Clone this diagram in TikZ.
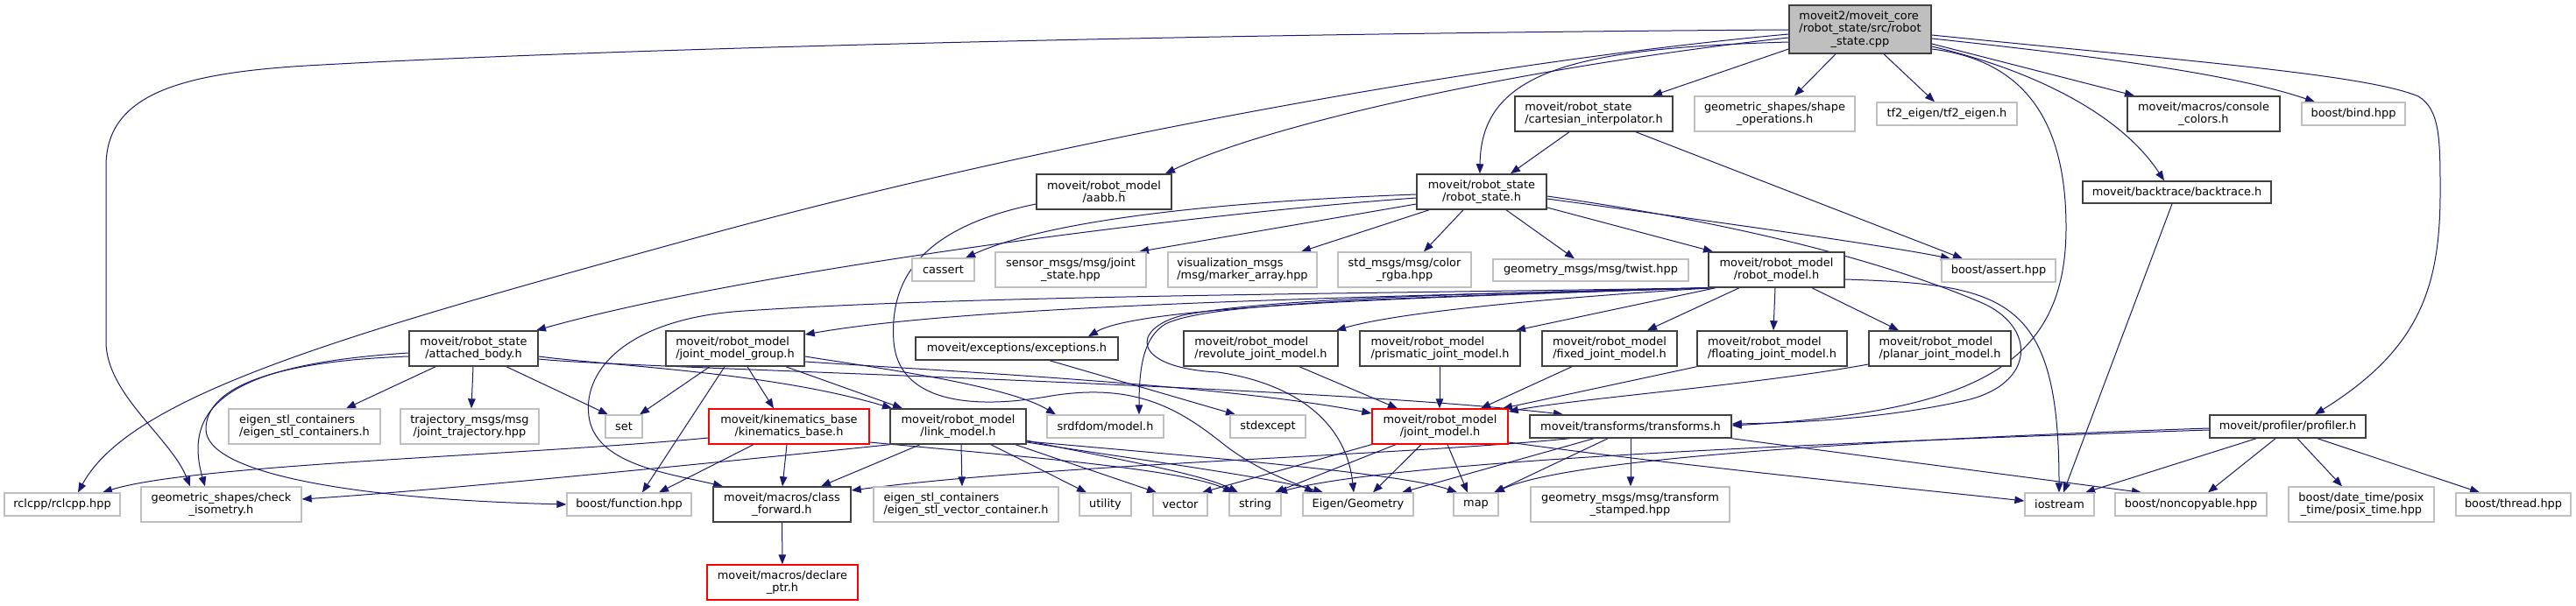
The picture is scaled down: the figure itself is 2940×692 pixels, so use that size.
\documentclass[tikz,border=0pt]{standalone}
\usepackage{fontspec}
\setmainfont{DejaVu Sans}
\usetikzlibrary{arrows.meta}
\definecolor{edgeblue}{HTML}{191970}
\definecolor{docborder}{HTML}{404040}
\definecolor{undborder}{HTML}{BFBFBF}
\definecolor{mainfill}{HTML}{BFBFBF}
\definecolor{truncred}{HTML}{FF0000}
\pgfdeclarelayer{bg}
\pgfsetlayers{bg,main}
\newbox\ljboxa \newbox\ljboxb \newdimen\ljw
\newcommand\lblB[2]{\global\setbox\ljboxa\hbox{#1}\global\setbox\ljboxb\hbox{#2}\global\ljw=\wd\ljboxa\ifdim\wd\ljboxb>\ljw \global\ljw=\wd\ljboxb\fi\hbox to\ljw{#1\hfil}\\#2}
\newcommand\lblC[3]{\global\setbox\ljboxa\hbox{#1}\global\setbox\ljboxb\hbox{#2}\global\ljw=\wd\ljboxa\ifdim\wd\ljboxb>\ljw \global\ljw=\wd\ljboxb\fi\hbox to\ljw{#1\hfil}\\\hbox to\ljw{#2\hfil}\\#3}
\newcommand\lblfont{\fontsize{12.9}{14.3}\selectfont}
\newcommand\mkn[7]{\node[#6,minimum width={(#4)-(#2)},minimum height={(#5)-(#3)}] (#1) at ({((#2)+(#4))/2},{((#3)+(#5))/2}) {#7};}
\begin{document}
\begin{tikzpicture}[x=1pt,y=-1pt,
  nb/.style={rectangle,inner sep=0pt,align=center,font=\lblfont,fill=white},
  doc/.style={nb,draw=docborder,line width=1.5pt},
  und/.style={nb,draw=undborder,line width=1.3pt},
  trunc/.style={nb,draw=truncred,line width=1.3pt},
  mainnode/.style={nb,draw=docborder,fill=mainfill,line width=1.5pt},
  dep/.style={draw=edgeblue,line width=1pt,-{Triangle[length=11pt,width=8.5pt]}}]
\useasboundingbox (0,0) rectangle (2940,692);
\begin{pgfonlayer}{bg}
\fill[white] (0,0) rectangle (2940,692);
\end{pgfonlayer}
% ---------- nodes ----------
\mkn{main}{2042}{6}{2204}{61}{mainnode}{\lblC{moveit2/moveit\_core}{/robot\_state/src/robot}{\_state.cpp}}
\mkn{cart}{1729}{110}{1909}{150}{doc}{\lblB{moveit/robot\_state}{/cartesian\_interpolator.h}}
\mkn{shapeops}{1934}{110}{2117}{150}{und}{\lblB{geometric\_shapes/shape}{\_operations.h}}
\mkn{tfeigen}{2142}{117}{2302}{143}{und}{tf2\_eigen/tf2\_eigen.h}
\mkn{console}{2428}{110}{2602}{150}{doc}{\lblB{moveit/macros/console}{\_colors.h}}
\mkn{bind}{2627}{117}{2745}{143}{und}{boost/bind.hpp}
\mkn{aabb}{1183}{199}{1337}{239}{doc}{\lblB{moveit/robot\_model}{/aabb.h}}
\mkn{rstate}{1617}{199}{1765}{239}{doc}{\lblB{moveit/robot\_state}{/robot\_state.h}}
\mkn{backtrace}{2377}{207}{2592}{232}{doc}{moveit/backtrace/backtrace.h}
\mkn{cassert}{1041}{295}{1112}{321}{und}{cassert}
\mkn{sensor}{1136}{288}{1308}{328}{und}{\lblB{sensor\_msgs/msg/joint}{\_state.hpp}}
\mkn{vis}{1333}{288}{1503}{328}{und}{\lblB{visualization\_msgs}{/msg/marker\_array.hpp}}
\mkn{stdcolor}{1527}{288}{1679}{328}{und}{\lblB{std\_msgs/msg/color}{\_rgba.hpp}}
\mkn{twist}{1704}{296}{1927}{321}{und}{geometry\_msgs/msg/twist.hpp}
\mkn{rmodel}{1950}{288}{2105}{328}{doc}{\lblB{moveit/robot\_model}{/robot\_model.h}}
\mkn{assert}{2216}{296}{2346}{322}{und}{boost/assert.hpp}
\mkn{attached}{467}{378}{614}{418}{doc}{\lblB{moveit/robot\_state}{/attached\_body.h}}
\mkn{jmg}{760}{378}{918}{418}{doc}{\lblB{moveit/robot\_model}{/joint\_model\_group.h}}
\mkn{exceptions}{1045}{385}{1276}{411}{doc}{moveit/exceptions/exceptions.h}
\mkn{revolute}{1351}{378}{1527}{418}{doc}{\lblB{moveit/robot\_model}{/revolute\_joint\_model.h}}
\mkn{prismatic}{1552}{378}{1735}{418}{doc}{\lblB{moveit/robot\_model}{/prismatic\_joint\_model.h}}
\mkn{fixed}{1760}{378}{1914}{418}{doc}{\lblB{moveit/robot\_model}{/fixed\_joint\_model.h}}
\mkn{floating}{1937}{378}{2108}{418}{doc}{\lblB{moveit/robot\_model}{/floating\_joint\_model.h}}
\mkn{planar}{2133}{378}{2295}{418}{doc}{\lblB{moveit/robot\_model}{/planar\_joint\_model.h}}
\mkn{eigenstl}{261}{467}{434}{507}{und}{\lblB{eigen\_stl\_containers}{/eigen\_stl\_containers.h}}
\mkn{traj}{457}{467}{615}{507}{und}{\lblB{trajectory\_msgs/msg}{/joint\_trajectory.hpp}}
\mkn{set}{691}{474}{733}{500}{und}{set}
\mkn{kin}{809}{467}{992}{507}{trunc}{\lblB{moveit/kinematics\_base}{/kinematics\_base.h}}
\mkn{link}{1016}{467}{1171}{507}{doc}{\lblB{moveit/robot\_model}{/link\_model.h}}
\mkn{srdf}{1195}{474}{1328}{500}{und}{srdfdom/model.h}
\mkn{stdexcept}{1404}{474}{1490}{500}{und}{stdexcept}
\mkn{jmodel}{1566}{467}{1721}{507}{trunc}{\lblB{moveit/robot\_model}{/joint\_model.h}}
\mkn{transforms}{1746}{474}{1976}{500}{doc}{moveit/transforms/transforms.h}
\mkn{profiler}{2522}{474}{2700}{500}{doc}{moveit/profiler/profiler.h}
\mkn{rclcpp}{5}{563}{137}{589}{und}{rclcpp/rclcpp.hpp}
\mkn{checkiso}{161}{556}{344}{596}{und}{\lblB{geometric\_shapes/check}{\_isometry.h}}
\mkn{function}{647}{563}{789}{589}{und}{boost/function.hpp}
\mkn{classfwd}{814}{556}{971}{596}{doc}{\lblB{moveit/macros/class}{\_forward.h}}
\mkn{eigenvec}{997}{556}{1208}{596}{und}{\lblB{eigen\_stl\_containers}{/eigen\_stl\_vector\_container.h}}
\mkn{utility}{1232}{563}{1291}{589}{und}{utility}
\mkn{vector}{1316}{563}{1378}{589}{und}{vector}
\mkn{string}{1403}{563}{1462}{589}{und}{string}
\mkn{eigengeom}{1487}{563}{1613}{589}{und}{Eigen/Geometry}
\mkn{map}{1659}{563}{1710}{589}{und}{map}
\mkn{geomtf}{1747}{556}{1974}{596}{und}{\lblB{geometry\_msgs/msg/transform}{\_stamped.hpp}}
\mkn{iostream}{2311}{563}{2390}{589}{und}{iostream}
\mkn{noncopy}{2414}{563}{2587}{589}{und}{boost/noncopyable.hpp}
\mkn{datetime}{2612}{556}{2778}{596}{und}{\lblB{boost/date\_time/posix}{\_time/posix\_time.hpp}}
\mkn{thread}{2803}{563}{2934}{589}{und}{boost/thread.hpp}
\mkn{declptr}{807}{645}{979}{685}{trunc}{\lblB{moveit/macros/declare}{\_ptr.h}}
% ---------- edges ----------
\begin{pgfonlayer}{bg}
% main
\draw[dep] (main.west |- 0,34) .. controls (1400,38) and (700,55) .. (350,75) .. controls (200,84) and (121,110) .. (121,190) -- (121,390) .. controls (121,450) and (195,500) .. (checkiso.north -| 217,0);
\draw[dep] (main.west |- 0,39) .. controls (1700,70) and (1200,160) .. (800,270) .. controls (400,380) and (150,450) .. (rclcpp.north -| 89,0);
\draw[dep] (main.west |- 0,43) .. controls (1750,75) and (1450,140) .. (aabb.north -| 1330,0);
\draw[dep] (main.west |- 0,48) .. controls (1800,55) and (1690,80) .. (rstate.north -| 1689,0);
\draw[dep] (main.west |- 0,56) -- (cart.north -| 1886,0);
\draw[dep] (main.south -| 2095,0) -- (shapeops.north -| 2048,0);
\draw[dep] (main.south -| 2150,0) -- (tfeigen.north -| 2208,0);
\draw[dep] (main.east |- 0,50) -- (console.north -| 2436,0);
\draw[dep] (main.east |- 0,44) .. controls (2400,65) and (2550,85) .. (bind.north -| 2642,0);
\draw[dep] (main.east |- 0,53) .. controls (2320,80) and (2420,130) .. (backtrace.north -| 2470,0);
\draw[dep] (main.east |- 0,40) .. controls (2500,70) and (2700,85) .. (2760,110) .. controls (2785,125) and (2785,160) .. (2785,220) .. controls (2785,330) and (2760,400) .. (profiler.north -| 2642,0);
\draw[dep] (main.east |- 0,56) .. controls (2320,70) and (2358,150) .. (2358,260) .. controls (2358,420) and (2250,470) .. (transforms.east |- 0,486);
% cartesian
\draw[dep] (cart.south -| 1791,0) -- (rstate.north -| 1724,0);
\draw[dep] (cart.south -| 1867,0) -- (assert.north -| 2240,0);
% robot_state
\draw[dep] (rstate.west |- 0,222) .. controls (1400,230) and (1200,250) .. (cassert.north -| 1102,0);
\draw[dep] (rstate.west |- 0,226) .. controls (1350,245) and (850,310) .. (attached.north -| 612,0);
\draw[dep] (rstate.west |- 0,233) -- (sensor.north -| 1300,0);
\draw[dep] (rstate.south -| 1631,0) -- (vis.north -| 1485,0);
\draw[dep] (rstate.south -| 1670,0) -- (stdcolor.north -| 1625,0);
\draw[dep] (rstate.south -| 1719,0) -- (twist.north -| 1797,0);
\draw[dep] (rstate.east |- 0,237) -- (rmodel.north -| 1955,0);
\draw[dep] (rstate.east |- 0,227) .. controls (1950,252) and (2150,280) .. (assert.north -| 2226,0);
\draw[dep] (rstate.east |- 0,224) .. controls (1950,250) and (2130,290) .. (2260,345) .. controls (2325,372) and (2325,440) .. (2240,458) .. controls (2150,478) and (2050,483) .. (transforms.east |- 0,484);
% aabb
\draw[dep] (aabb.west |- 0,233) .. controls (1050,260) and (1015,320) .. (1020,390) .. controls (1025,455) and (1100,470) .. (1200,452) .. controls (1300,436) and (1350,470) .. (1400,510) .. controls (1440,540) and (1480,552) .. (eigengeom.north -| 1500,0);
% robot_model
\draw[dep] (rmodel.south west) .. controls (1500,340) and (1100,350) .. (jmg.east |- 0,382);
\draw[dep] (rmodel.south -| 1953,0) .. controls (1600,340) and (1300,350) .. (exceptions.north -| 1242,0);
\draw[dep] (rmodel.south -| 1955,0) .. controls (1800,338) and (1600,355) .. (revolute.north -| 1525,0);
\draw[dep] (rmodel.south -| 1958,0) -- (prismatic.north -| 1730,0);
\draw[dep] (rmodel.south -| 1985,0) -- (fixed.north -| 1880,0);
\draw[dep] (rmodel.south -| 2026,0) -- (floating.north -| 2024,0);
\draw[dep] (rmodel.south -| 2068,0) -- (planar.north -| 2167,0);
\draw[dep] (rmodel.south west) .. controls (1500,336) and (1100,338) .. (850,355) .. controls (720,363) and (665,420) .. (672,475) .. controls (679,530) and (760,540) .. (classfwd.north -| 825,0);
\draw[dep] (rmodel.south west) .. controls (1600,340) and (1380,345) .. (1330,370) .. controls (1305,385) and (1300,420) .. (srdf.north -| 1300,0);
\draw[dep] (rmodel.south west) .. controls (1700,335) and (1450,340) .. (1350,360) .. controls (1290,375) and (1290,420) .. (1390,425) .. controls (1460,435) and (1535,470) .. (eigengeom.north -| 1545,0);
\draw[dep] (rmodel.east |- 0,319) .. controls (2290,325) and (2350,340) .. (iostream.north -| 2350,0);
% joint_model_group
\draw[dep] (jmg.south -| 810,0) -- (set.north -| 730,0);
\draw[dep] (jmg.south -| 827,0) -- (function.north -| 733,0);
\draw[dep] (jmg.south -| 853,0) -- (kin.north -| 883,0);
\draw[dep] (jmg.south -| 897,0) -- (link.north -| 1030,0);
\draw[dep] (jmg.east |- 0,407) .. controls (1000,420) and (1150,440) .. (srdf.north -| 1205,0);
\draw[dep] (jmg.east |- 0,413) .. controls (1100,425) and (1400,440) .. (jmodel.west |- 0,472);
% attached_body
\draw[dep] (attached.south -| 497,0) -- (eigenstl.north -| 395,0);
\draw[dep] (attached.south -| 540,0) -- (traj.north -| 538,0);
\draw[dep] (attached.south -| 578,0) -- (set.north -| 694,0);
\draw[dep] (attached.east |- 0,407) .. controls (700,418) and (880,425) .. (link.north -| 1018,0);
\draw[dep] (attached.east |- 0,410) .. controls (700,420) and (1500,440) .. (transforms.north -| 1784,0);
\draw[dep] (attached.west |- 0,403) .. controls (280,415) and (205,455) .. (checkiso.north -| 234,0);
\draw[dep] (attached.west |- 0,407) .. controls (320,412) and (235,440) .. (235,490) .. controls (235,540) and (400,570) .. (function.west |- 0,576);
% kinematics_base
\draw[dep] (kin.west |- 0,500) .. controls (600,520) and (220,530) .. (rclcpp.north -| 117,0);
\draw[dep] (kin.south -| 860,0) -- (function.north -| 752,0);
\draw[dep] (kin.south -| 898,0) -- (classfwd.north -| 893,0);
\draw[dep] (kin.east |- 0,505) .. controls (1150,520) and (1350,535) .. (string.north -| 1407,0);
% link_model
\draw[dep] (link.south -| 1050,0) -- (classfwd.north -| 937,0);
\draw[dep] (link.south -| 1097,0) -- (eigenvec.north -| 1098,0);
\draw[dep] (link.south west) .. controls (800,530) and (500,560) .. (checkiso.east |- 0,570);
\draw[dep] (link.south -| 1131,0) -- (utility.north -| 1240,0);
\draw[dep] (link.south -| 1159,0) -- (vector.north -| 1320,0);
\draw[dep] (link.east |- 0,503) .. controls (1250,520) and (1370,540) .. (string.north -| 1413,0);
\draw[dep] (link.east |- 0,505) .. controls (1300,525) and (1450,545) .. (eigengeom.north -| 1510,0);
\draw[dep] (link.east |- 0,504) .. controls (1350,520) and (1600,540) .. (map.north -| 1663,0);
% joint_model
\draw[dep] (jmodel.south west) -- (vector.north -| 1372,0);
\draw[dep] (jmodel.south -| 1593,0) -- (string.north -| 1455,0);
\draw[dep] (jmodel.south -| 1622,0) -- (eigengeom.north -| 1567,0);
\draw[dep] (jmodel.south -| 1652,0) -- (map.north -| 1675,0);
\draw[dep] (jmodel.east |- 0,505) .. controls (1900,530) and (2200,560) .. (iostream.west |- 0,572);
% transforms
\draw[dep] (transforms.south -| 1791,0) .. controls (1600,520) and (1200,530) .. (classfwd.east |- 0,560);
\draw[dep] (transforms.south -| 1819,0) -- (eigengeom.north -| 1600,0);
\draw[dep] (transforms.south -| 1835,0) -- (map.north -| 1705,0);
\draw[dep] (transforms.south -| 1861,0) -- (geomtf.north -| 1861,0);
\draw[dep] (transforms.south east) -- (noncopy.north -| 2444,0);
% exceptions
\draw[dep] (exceptions.south -| 1198,0) -- (stdexcept.north -| 1410,0);
% joint model kinds
\draw[dep] (revolute.south -| 1483,0) -- (jmodel.north -| 1595,0);
\draw[dep] (prismatic.south -| 1643,0) -- (jmodel.north -| 1643,0);
\draw[dep] (fixed.south -| 1794,0) -- (jmodel.north -| 1690,0);
\draw[dep] (floating.south west) -- (jmodel.north -| 1715,0);
\draw[dep] (planar.west |- 0,416) .. controls (2000,440) and (1800,455) .. (jmodel.east |- 0,470);
% class_forward
\draw[dep] (classfwd) -- (declptr);
% backtrace
\draw[dep] (backtrace.south -| 2479,0) -- (iostream.north -| 2355,0);
% profiler
\draw[dep] (profiler.south -| 2575,0) -- (iostream.north -| 2380,0);
\draw[dep] (profiler.south -| 2597,0) -- (noncopy.north -| 2520,0);
\draw[dep] (profiler.south -| 2622,0) -- (datetime.north -| 2673,0);
\draw[dep] (profiler.south -| 2645,0) -- (thread.north -| 2830,0);
\draw[dep] (profiler.west |- 0,489) .. controls (2200,500) and (1800,520) .. (map.north -| 1706,0);
\draw[dep] (profiler.west |- 0,491) .. controls (2100,505) and (1600,525) .. (string.north -| 1458,0);
\end{pgfonlayer}
\end{tikzpicture}
\end{document}
